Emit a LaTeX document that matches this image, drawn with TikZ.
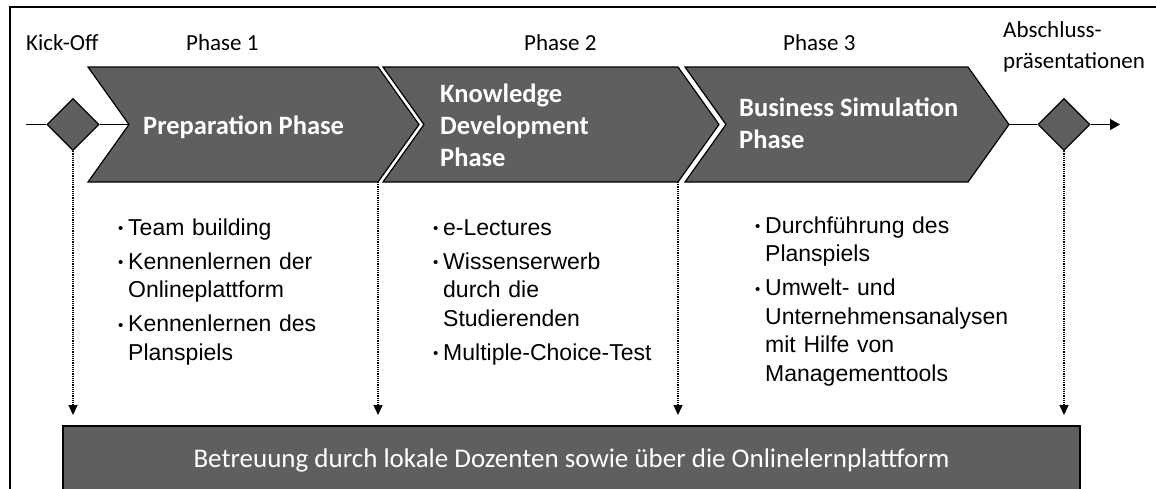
\documentclass[tikz,border=0pt]{standalone}
\usepackage{fontspec}
\setmainfont{Carlito}
\newfontfamily\arialfont{Liberation Sans}
\usetikzlibrary{shapes.geometric,arrows.meta}

\definecolor{phasegray}{HTML}{5F5F5F}

% one bullet point with hanging indent
\newcommand{\bitem}[1]{\hangindent=10pt\hangafter=1\noindent\makebox[10pt][l]{\fontsize{15}{15}\selectfont\raisebox{1.5pt}{\textbullet}}#1\par}

\begin{document}
\begin{tikzpicture}[x=1pt,y=-1pt,
  chev/.style={draw=black,line width=1.2pt,fill=phasegray,line join=miter},
  stone/.style={diamond,draw=black,line width=1.2pt,fill=phasegray,inner sep=0pt,minimum width=52pt,minimum height=52pt},
  flow/.style={line width=1.5pt},
  drop/.style={densely dotted,line width=1.2pt,-{Triangle[width=9pt,length=10pt]}},
  lbl/.style={anchor=base west,inner sep=0pt,align=left,font=\fontsize{23}{31}\selectfont},
  title/.style={anchor=base west,inner sep=0pt,align=left,text=white,font=\bfseries\fontsize{26.5}{32}\selectfont},
  bullets/.style={anchor=base west,inner sep=0pt,text width=320pt,align=left,font=\arialfont\fontsize{23}{28.5}\selectfont\setlength{\parskip}{5.5pt}}]
\useasboundingbox (0,0) rectangle (1156,488);
\clip (0,0) rectangle (1156,488);

% frame
\draw[line width=1.5pt] (10,500) -- (10,7) -- (1170,7);

% phase arrows
\draw[chev] (88,67) -- (378,67) -- (419,124.5) -- (378,182) -- (88,182) -- (129,124.5) -- cycle;
\draw[chev] (383,67) -- (678,67) -- (719,124.5) -- (678,182) -- (383,182) -- (424,124.5) -- cycle;
\draw[chev] (685,67) -- (968,67) -- (1009,124.5) -- (968,182) -- (685,182) -- (726,124.5) -- cycle;
\coordinate (p1-in) at (129,124.5);
\coordinate (p1-foot) at (378,182);
\coordinate (p2-foot) at (678,182);
\coordinate (p3-tip) at (1009,124.5);
\coordinate (start) at (26,124.5);
\coordinate (end) at (1120,124.5);
\coordinate (bottomline) at (0,415);

% milestones
\node[stone] (kick) at (73,124.5) {};
\node[stone] (final) at (1064,124.5) {};

\draw[flow] (start) -- (kick.west);
\draw[flow] (kick.east) -- (p1-in);
\draw[flow] (p3-tip) -- (final.west);
\draw[flow,-{Triangle[width=11pt,length=10pt]}] (final.east) -- (end);

% dotted drops to the support bar
\draw[drop] (kick.south) -- (kick.south |- bottomline);
\draw[drop] (p1-foot) -- (p1-foot |- bottomline);
\draw[drop] (p2-foot) -- (p2-foot |- bottomline);
\draw[drop] (final.south) -- (final.south |- bottomline);

\node[draw=black,line width=1.2pt,fill=phasegray,minimum width=1017pt,minimum height=68pt,
  text=white,font=\fontsize{27}{32}\selectfont] (support) at (571.5,460)
  {Betreuung durch lokale Dozenten sowie über die Onlinelernplattform};

% labels above (base = last line)
\node[lbl] (kickoff) at (26,50) {Kick-Off};
\node[lbl] (ph1) at (186,50) {Phase 1};
\node[lbl] (ph2) at (524,50) {Phase 2};
\node[lbl] (ph3) at (783,50) {Phase 3};
\node[lbl] (closing) at (1003,68) {Abschluss-\\präsentationen};

% phase titles
\node[title] (t1) at (143,134) {Preparation Phase};
\node[title] (t2) at (440,166) {Knowledge\\Development\\Phase};
\node[title] (t3) at (739,148.5) {Business Simulation\\Phase};

% contents (base = first line)
\node[bullets] (b1) at (118,235) {\bitem{Team building}\bitem{Kennenlernen der\newline Onlineplattform}\bitem{Kennenlernen des\newline Planspiels}};
\node[bullets] (b2) at (433,235) {\bitem{e-Lectures}\bitem{Wissenserwerb\newline durch die\newline Studierenden}\bitem{Multiple-Choice-Test}};
\node[bullets] (b3) at (755,233) {\bitem{Durchführung des\newline Planspiels}\bitem{Umwelt- und\newline Unternehmensanalysen\newline mit Hilfe von\newline Managementtools}};
\end{tikzpicture}
\end{document}
